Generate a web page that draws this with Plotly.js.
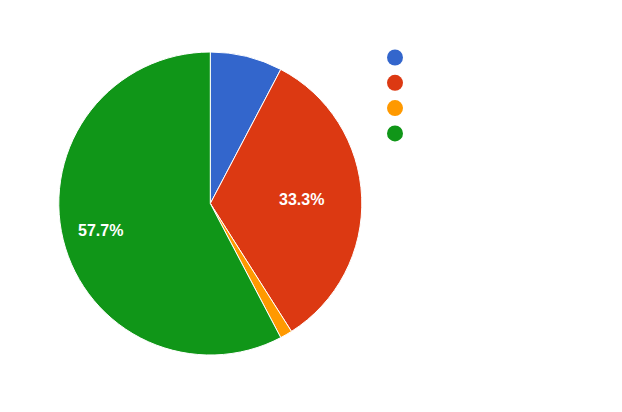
<!DOCTYPE html>
<html>
<head>
<meta charset="utf-8">
<script src="https://cdn.plot.ly/plotly-3.0.1.min.js"></script>
<style>html,body{margin:0;padding:0;background:#fff;}#chart{width:622px;height:412px;}</style>
</head>
<body>
<div id="chart"></div>
<script>
var labels = [" ", "  ", "   ", "    "];
var values = [7.7, 33.3, 1.3, 57.7];
var colors = ["#3366cc", "#dc3912", "#ff9900", "#109618"];
var showLabel = [false, true, false, true];

var W = 622, H = 412;
var CX = 210.3, CY = 203.5, R = 151.5;
var labelRadius = [0, 0.6, 0, 0.745];

var trace = {
  type: "pie",
  labels: labels,
  values: values,
  sort: false,
  direction: "clockwise",
  rotation: 0,
  marker: {colors: colors, line: {color: "#ffffff", width: 1}},
  textinfo: "none",
  hoverinfo: "none",
  showlegend: false,
  domain: {x: [(CX - R) / W, (CX + R) / W], y: [1 - (CY + R) / H, 1 - (CY - R) / H]}
};

var total = values.reduce(function(a, b) { return a + b; }, 0);
var annotations = [];
var cum = 0;
values.forEach(function(v, i) {
  var mid = (cum + v / 2) / total * 2 * Math.PI;
  cum += v;
  if (!showLabel[i]) return;
  var r = R * labelRadius[i];
  var px = CX + r * Math.sin(mid);
  var py = CY - r * Math.cos(mid);
  annotations.push({
    xref: "paper", yref: "paper", x: px / W, y: 1 - py / H,
    xanchor: "center", yanchor: "middle", showarrow: false,
    text: (v / total * 100).toFixed(1) + "%",
    font: {family: "Liberation Sans, Arial, sans-serif", size: 16, color: "#ffffff", weight: "bold"}
  });
});

var shapes = colors.map(function(c, i) {
  var cy = 57.5 + i * 25.3;
  return {type: "circle", xref: "paper", yref: "paper",
    x0: 387/W, x1: 403/W, y0: 1 - (cy + 8)/H, y1: 1 - (cy - 8)/H,
    fillcolor: c, line: {width: 0}};
});

var layout = {
  width: W, height: H,
  margin: {l: 0, r: 0, t: 0, b: 0},
  paper_bgcolor: "#ffffff",
  showlegend: false,
  shapes: shapes,
  annotations: annotations
};

Plotly.newPlot("chart", [trace], layout, {displayModeBar: false, staticPlot: true});
</script>
</body>
</html>
